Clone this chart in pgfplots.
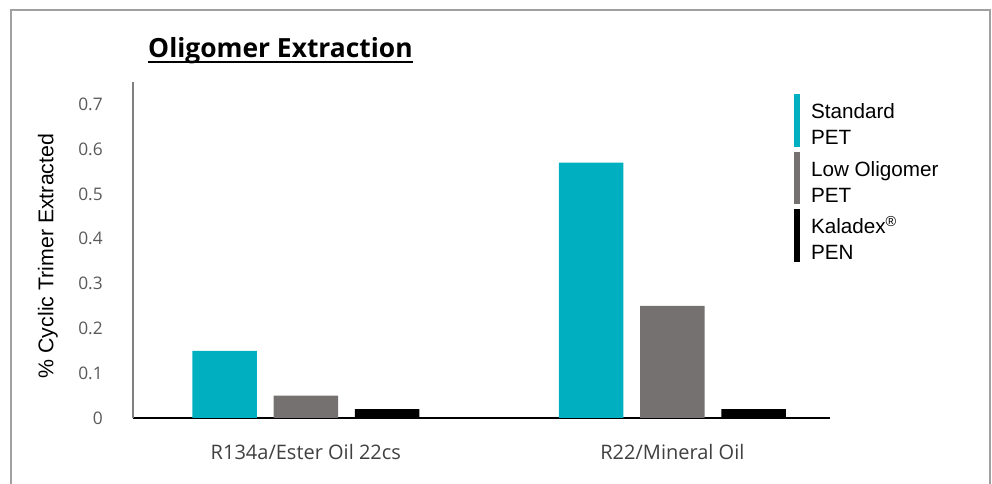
\documentclass[border=0pt]{standalone}
\usepackage{fontspec}
\setmainfont{Liberation Sans}
\newfontfamily\seg{Open Sans}
\usepackage{pgfplots}
\pgfplotsset{compat=1.18}
\definecolor{cteal}{RGB}{0,176,192}
\definecolor{cgray}{RGB}{118,113,113}
\definecolor{ctick}{RGB}{89,89,89}
\definecolor{ccat}{RGB}{64,64,64}
\definecolor{cframe}{RGB}{160,160,160}
\newcommand\ttl[1]{\setbox0\hbox{#1}\rlap{\rule[-4pt]{\wd0}{1.4pt}}\box0}
\begin{document}
\begin{tikzpicture}
\useasboundingbox (-99.75pt,-49.5pt) rectangle (644.25pt,313.5pt);
\draw[cframe, line width=1.1pt] (-91.5pt,-60pt) -- (-91.5pt,306pt) -- (642.75pt,306pt) -- (642.75pt,-60pt);
\begin{axis}[
  scale only axis, width=522.75pt, height=252pt,
  xmin=-0.4716, xmax=1.430, ymin=0, ymax=0.75,
  ybar, bar width=48.4pt,
  axis lines*=left,
  x axis line style={black, line width=0.9pt},
  y axis line style={gray, line width=0.8pt},
  xtick={0,1}, xticklabels={R134a/Ester Oil 22cs, R22/Mineral Oil},
  ytick={0,0.1,0.2,0.3,0.4,0.5,0.6,0.7},
  major tick length=0pt,
  /pgf/number format/assume math mode=true,
  yticklabel style={font=\seg\fontsize{13}{15}\selectfont, text=ctick, anchor=east, inner sep=0pt, xshift=-22.5pt},
  xticklabel style={font=\seg\fontsize{15}{17}\selectfont, text=ccat, anchor=center, inner sep=0pt, yshift=-25.5pt},
  ylabel={\% Cyclic Trimer Extracted},
  ylabel style={at={(axis description cs:-0.122,0.482)}, anchor=center, font=\fontsize{16}{19}\selectfont},
  title={\ttl{Oligomer Extraction}},
  title style={at={(axis description cs:0.0215,1.0476)}, anchor=base west, inner sep=0pt, font=\seg\bfseries\fontsize{19.8}{23}\selectfont},
  legend style={at={(axis description cs:0.948,0.964)}, anchor=north west, draw=none, fill=none, inner sep=0pt, row sep=3.6pt, column sep=8.25pt, nodes={inner sep=0pt}, font=\fontsize{15.5}{19.2}\selectfont},
  legend cell align=left,
  legend image code/.code={\fill[#1] (0pt,-27pt) rectangle (4.5pt,12.5pt);},
]
\addplot[fill=cteal, draw=none, bar shift=-61pt] coordinates {(0,0.15) (1,0.57)};
\addlegendentry{\begin{tabular}[t]{@{}l@{}}Standard\\PET\end{tabular}}
\addplot[fill=cgray, draw=none, bar shift=0pt] coordinates {(0,0.05) (1,0.25)};
\addlegendentry{\begin{tabular}[t]{@{}l@{}}Low Oligomer\\PET\end{tabular}}
\addplot[fill=black, draw=none, bar shift=61pt] coordinates {(0,0.02) (1,0.02)};
\addlegendentry{\begin{tabular}[t]{@{}l@{}}Kaladex\textsuperscript{®}\\PEN\end{tabular}}
\end{axis}
\end{tikzpicture}
\end{document}
